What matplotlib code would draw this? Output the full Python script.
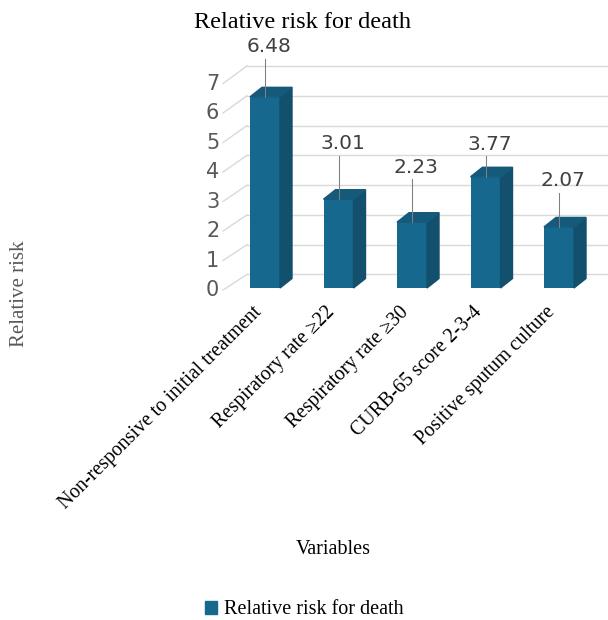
import matplotlib
matplotlib.use("Agg")
import matplotlib.pyplot as plt
from matplotlib.patches import Polygon, Patch

# ---------------------------------
# data
# ---------------------------------
categories = ["Non-responsive to initial treatment",
              "Respiratory rate \u226522",
              "Respiratory rate \u226530",
              "CURB-65 score 2-3-4",
              "Positive sputum culture"]
values = [6.48, 3.01, 2.23, 3.77, 2.07]
yticks = [0, 1, 2, 3, 4, 5, 6, 7]

# label lift above each bar (Excel placed them by hand)
label_lift = [1.69, 1.90, 1.87, 1.11, 1.56]

# colours
front_c = "#17688e"
side_c = "#12506d"
top_c = "#155a7b"
grid_c = "#d9d9d9"

serif = "Liberation Serif"

# ---------------------------------
# figure: one axes over whole canvas, data units = front plane of bars
# ---------------------------------
W, H = 608, 620
x0px, xunit = 265, 73.5     # pixel of first bar centre, px per category
y0px, yunit = 288, 29.5     # pixel of value 0, px per unit

fig = plt.figure(figsize=(W / 100, H / 100), dpi=100)
ax = fig.add_axes([0, 0, 1, 1])
ax.set_xlim(-x0px / xunit, (W - x0px) / xunit)
ax.set_ylim((y0px - H) / yunit, y0px / yunit)
ax.axis("off")

def px(dx, dy):
    # pixel offsets -> data offsets
    return dx / xunit, dy / yunit

# walls
side_front_x, side_front_dy = -0.571, -0.068
back_x, back_dy = -0.245, 0.458
xmax = ax.get_xlim()[1]
for t in yticks:
    ax.plot([side_front_x, back_x], [t + side_front_dy, t * 1.01 + back_dy],
            color=grid_c, lw=1, zorder=1)
    ax.plot([back_x, xmax], [t * 1.01 + back_dy, t * 1.01 + back_dy],
            color=grid_c, lw=1, zorder=1)
    ax.text(side_front_x - 0.05, t + side_front_dy, str(t), ha="right",
            va="center", fontsize=15, color="#595959", family="DejaVu Sans")

# bars
bw = 30 / xunit
ddx, ddy = px(12, 9.5)
xs = list(range(len(values)))
ax.bar(xs, values, width=bw, color=front_c, zorder=3)
for x, v in zip(xs, values):
    r = x + bw / 2
    l = x - bw / 2
    ax.add_patch(Polygon([(r, 0), (r + ddx, ddy), (r + ddx, v + ddy), (r, v)],
                         closed=True, color=side_c, zorder=3))
    ax.add_patch(Polygon([(l, v), (r, v), (r + ddx, v + ddy), (l + ddx, v + ddy)],
                         closed=True, color=top_c, zorder=3))

# value labels + leader lines
for x, v, lift in zip(xs, values, label_lift):
    ly = v + lift
    ax.plot([x, x], [v, ly - 0.42], color="#7f7f7f", lw=0.75, zorder=4)
    ax.text(x + px(4, 0)[0], ly, "%.2f" % v, ha="center", va="center",
            fontsize=14.5, color="#404040", family="DejaVu Sans")

# category labels along the front floor edge
lab_dx, lab_dy = px(-13, -15)
for x, c in zip(xs, categories):
    ax.text(x + lab_dx, lab_dy, c, rotation=45,
            rotation_mode="anchor", ha="right", va="top",
            fontsize=14.3, family=serif, color="black")

# titles
fig.text(303 / W, 1 - 22 / H, "Relative risk for death", ha="center",
         va="center", fontsize=17.5, family=serif)
fig.text(20 / W, 1 - 294 / H, "Relative risk", rotation=90, ha="center",
         va="center", fontsize=15, family=serif, color="#595959")
fig.text(333 / W, 1 - 549 / H, "Variables", ha="center", va="center",
         fontsize=14.5, family=serif)

# legend
fig.legend(handles=[Patch(color=front_c, label="Relative risk for death")],
           loc="center", bbox_to_anchor=(304 / W, 1 - 610 / H), frameon=False,
           prop={"family": serif, "size": 14.5}, handlelength=0.6,
           handleheight=0.6, handletextpad=0.35, borderpad=0)

fig.savefig("out.png", dpi=100)
